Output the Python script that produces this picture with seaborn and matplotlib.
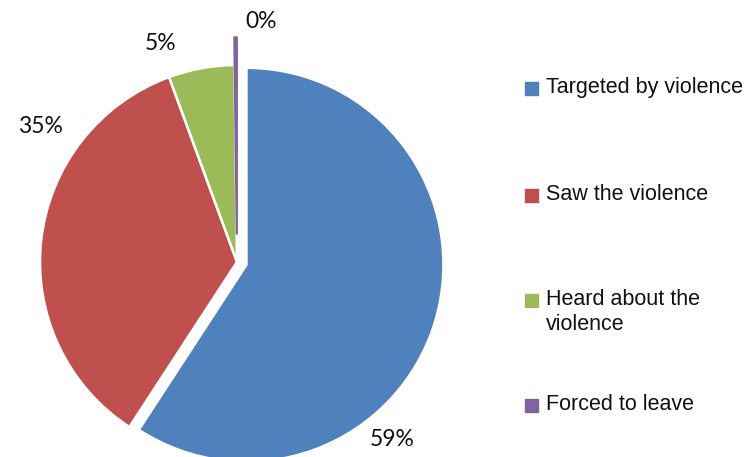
"""
Pie chart: how respondents experienced the violence
"""

import matplotlib.pyplot as plt
from matplotlib.patches import Rectangle
import seaborn as sns

# data
categories = ['Targeted by violence', 'Saw the violence',
              'Heard about the violence', 'Forced to leave']
legend_labels = ['Targeted by violence', 'Saw the violence',
                 'Heard about the\nviolence', 'Forced to leave']
shares = [59.2, 35.2, 5.4, 0.2]
pct_labels = ['59%', '35%', '5%', '0%']
colors = ['#4F81BD', '#C0504D', '#9BBB59', '#8064A2']

sns.set_theme(style='white')
palette = sns.color_palette(colors)

W, H = 749, 457
fig = plt.figure(figsize=(W / 100, H / 100), dpi=100)

# pie centre / radius in pixels
cx, cy, r = 237, 262, 197
ax = fig.add_axes([0, 0, 1, 1])

wedges, _ = ax.pie(shares, colors=palette, startangle=90, counterclock=False,
                   explode=[0.05, 0, 0, 0.14], radius=1,
                   wedgeprops={'edgecolor': 'white', 'linewidth': 1.8})
# the tiny slice shows up as a thin purple line
wedges[3].set_edgecolor(palette[3])
wedges[3].set_linewidth(1.6)

# pie() resets the limits, so set them afterwards (1 unit = r pixels)
ax.set_xlim(-cx / r, (W - cx) / r)
ax.set_ylim(-(H - cy) / r, cy / r)
ax.axis('off')

# percentage labels (placed like the original "best fit" labels)
label_xy = [(0.79, -0.90), (-1.00, 0.69), (-0.39, 1.11), (0.12, 1.22)]
for txt, (x, y) in zip(pct_labels, label_xy):
    ax.text(x, y, txt, ha='center', va='center', fontsize=16.5,
            family='Lato', color='#111111')

# legend drawn by hand so the marker sits on the first line
leg_rows = [88, 195, 300, 405]
for lab, col, y in zip(legend_labels, palette, leg_rows):
    fig.patches.append(Rectangle((525 / W, 1 - (y + 6.5) / H), 13 / W, 13 / H,
                                 transform=fig.transFigure, color=col))
    fig.text(546 / W, 1 - (y - 11) / H, lab, ha='left', va='top',
             fontsize=15.5, family='Liberation Sans', color='#111111',
             linespacing=1.25)

fig.savefig('out.png', dpi=100)
